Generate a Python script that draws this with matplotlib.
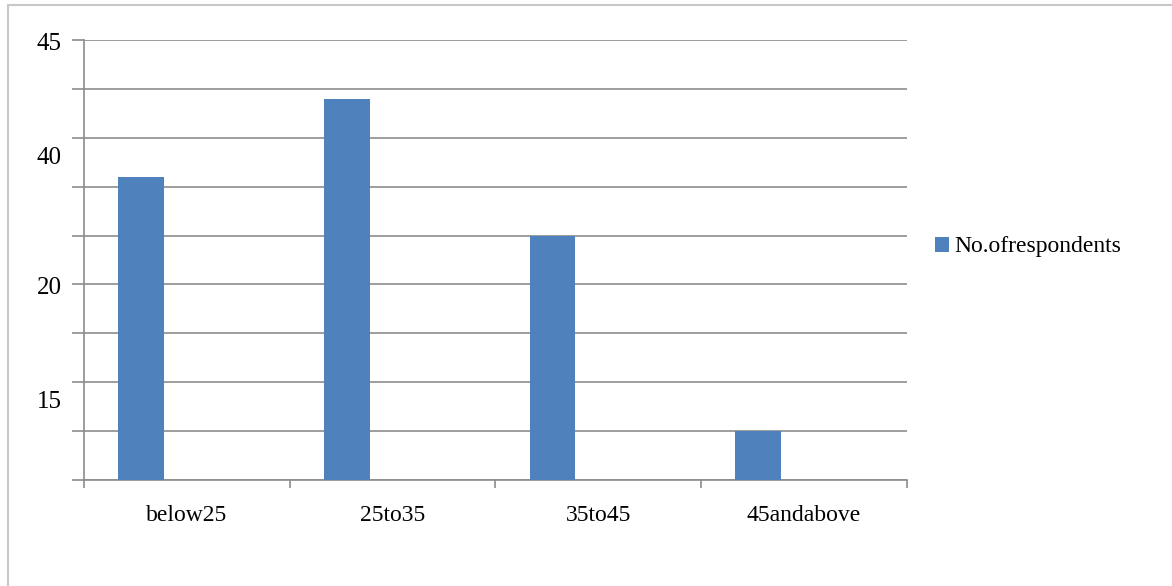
import matplotlib.pyplot as plt
from matplotlib.patches import Rectangle
from matplotlib.transforms import blended_transform_factory

# chart data
categories = ['below25', '25to35', '35to45', '45andabove']
respondents = [31, 39, 25, 5]
series_name = 'No.ofrespondents'

# the y labels in the source sit at odd heights; keep them as they appear
ylabel_text = ['45', '40', '20', '15']
ylabel_pos = [44.6, 32.9, 19.6, 8.0]

bar_color = '#4F81BD'
grid_color = '#8C8C8C'
serif = ['Liberation Serif', 'DejaVu Serif']

fig = plt.figure(figsize=(11.72, 5.86), dpi=100)
ax = fig.add_axes([84/1172, 1 - 480/586, (907-84)/1172, (480-40)/586])

x = list(range(len(categories)))
bw = 0.223
ax.bar([i - 0.223 for i in x], respondents, width=bw, color=bar_color,
       label=series_name, zorder=3)

ax.set_xlim(-0.5, len(categories) - 0.5)
ax.set_ylim(0, 45)

# horizontal grid with outward ticks on the left
ax.set_yticks(range(0, 46, 5))
ax.set_yticklabels([])
ax.tick_params(axis='y', length=9, color=grid_color, width=1.2)
ax.yaxis.grid(True, color=grid_color, linewidth=1.2, zorder=0)

trans = blended_transform_factory(ax.transAxes, ax.transData)
for t, p in zip(ylabel_text, ylabel_pos):
    ax.text(-0.042, p, t, transform=trans, ha='center', va='center',
            fontsize=18, family=serif)

# category labels centred, tick marks at the boundaries
ax.set_xticks(x)
ax.set_xticklabels(categories, fontsize=17, family=serif)
ax.set_xticks([i - 0.5 for i in range(len(categories) + 1)], minor=True)
ax.tick_params(axis='x', which='major', length=0, pad=18)
ax.tick_params(axis='x', which='minor', length=6, color=grid_color, width=1.2)

for s in ['top', 'right']:
    ax.spines[s].set_visible(False)
for s in ['left', 'bottom']:
    ax.spines[s].set_color(grid_color)
    ax.spines[s].set_linewidth(1.2)

fig.legend(loc='center left', bbox_to_anchor=(935/1172, 1 - 247/586),
           frameon=False, handlelength=0.6, handleheight=0.6,
           handletextpad=0.2, borderpad=0, borderaxespad=0,
           prop={'family': serif, 'size': 17})

# light outer frame, only left and top edges visible
fig.patches.append(Rectangle((8/1172, -0.05), 1.1, 1.05 - 5/586,
                             transform=fig.transFigure, fill=False,
                             edgecolor='#C8C8C8', linewidth=1.5))

fig.savefig('out.png', dpi=100)
